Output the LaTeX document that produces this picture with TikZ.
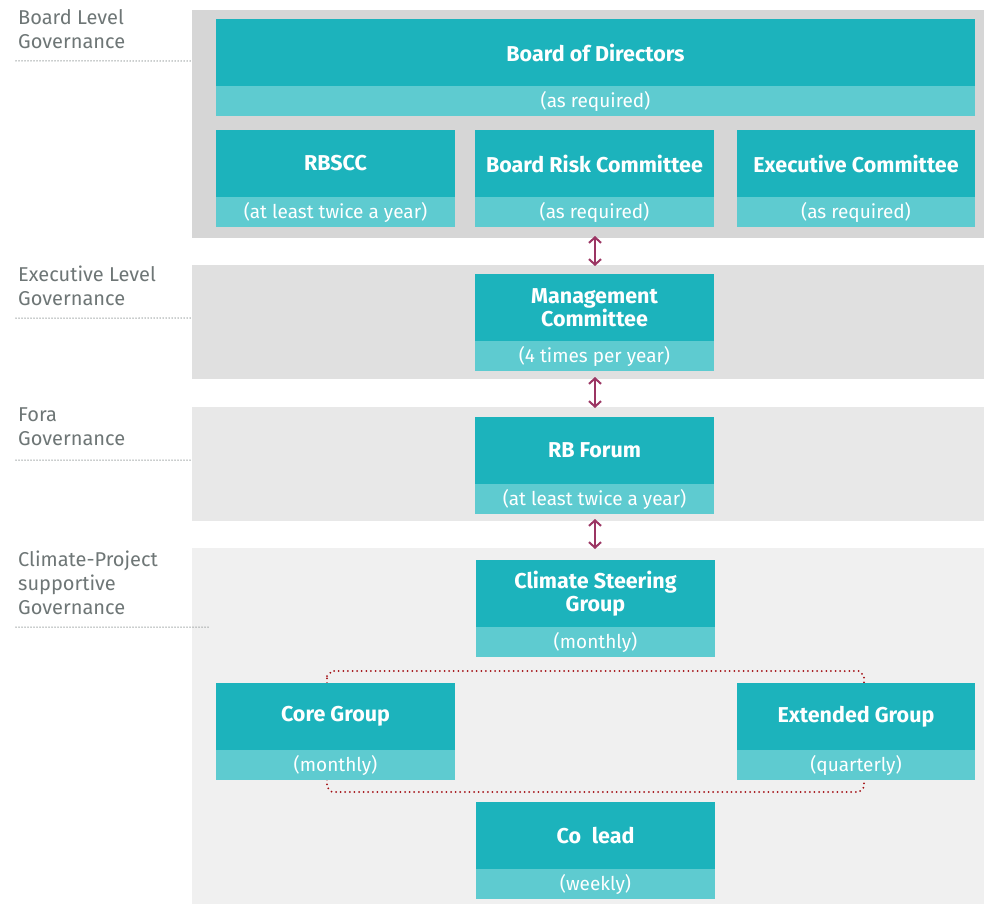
\documentclass[tikz,border=0pt]{standalone}
\usepackage{fontspec}
\setmainfont{Fira Sans}
\usetikzlibrary{arrows.meta,positioning}
\definecolor{tealD}{HTML}{1CB3BC}
\definecolor{tealL}{HTML}{5ECBD0}
\definecolor{bandA}{HTML}{D6D6D6}
\definecolor{bandB}{HTML}{E0E0E0}
\definecolor{bandC}{HTML}{E8E8E8}
\definecolor{bandD}{HTML}{F0F0F0}
\definecolor{lblgray}{HTML}{6E7676}
\definecolor{arrcol}{HTML}{9B3563}
\definecolor{dotred}{HTML}{A30D12}
\tikzset{
  ttl/.style={fill=tealD, text=white, inner sep=0pt, outer sep=0pt, minimum width=239pt, minimum height=67pt, anchor=north west, font=\fontsize{21.5}{23}\selectfont\bfseries, align=center},
  sub/.style={fill=tealL, text=white, inner sep=0pt, outer sep=0pt, minimum width=239pt, minimum height=30pt, anchor=north, font=\fontsize{19}{20}\selectfont},
  lbl/.style={text=lblgray, anchor=north west, inner sep=0pt, align=left, font=\fontsize{20}{24}\selectfont},
  lblline/.style={draw=lblgray!75, line width=1.5pt, line cap=round, dash pattern=on 0pt off 3pt},
  arr/.style={draw=arrcol, line width=2pt, {Straight Barb[length=5.5pt,width=12pt]}-{Straight Barb[length=5.5pt,width=12pt]}},
  bracket/.style={draw=dotred, line width=2pt, line cap=round, dash pattern=on 0pt off 4.6pt}
}
\begin{document}
\begin{tikzpicture}[x=1pt,y=-1pt]
\useasboundingbox[fill=white] (0,0) rectangle (984,904);
% bands
\fill[bandA] (192,10) rectangle (984,238);
\fill[bandB] (192,265) rectangle (984,379);
\fill[bandC] (192,407) rectangle (984,521);
\fill[bandD] (192,548) rectangle (984,904);
\coordinate (b1s) at (595,238);
\coordinate (b2n) at (595,265);
\coordinate (b2s) at (595,379);
\coordinate (b3n) at (595,407);
\coordinate (b3s) at (595,521);
\coordinate (b4n) at (595,548);
% labels
\node[lbl] (l1) at (18,9) {Board Level\\Governance};
\node[lbl] (l2) at (18,266) {Executive Level\\Governance};
\node[lbl] (l3) at (18,408) {Fora\\Governance};
\node[lbl] (l4) at (18,551) {Climate-Project\\supportive\\Governance};
\draw[lblline] (16,61) -- (190,61);
\draw[lblline] (16,318) -- (190,318);
\draw[lblline] (16,460) -- (190,460);
\draw[lblline] (16,627) -- (208,627);
% dotted bracket (behind the boxes)
\draw[bracket] (327,676) -- (332,671) -- (859,671) -- (864,676) -- (864,787) -- (859,792) -- (332,792) -- (327,787) -- cycle;
% Board of Directors
\node[ttl, minimum width=759pt] (bod) at (216,19) {Board of Directors};
\node[sub, minimum width=759pt] (bods) at (bod.south) {(as required)};
% row 2
\node[ttl] (rb) at (216,130) {RBSCC};
\node[sub] (rbs) at (rb.south) {(at least twice a year)};
\node[ttl] (brc) at (475,130) {Board Risk Committee};
\node[sub] (brcs) at (brc.south) {(as required)};
\node[ttl, minimum width=238pt] (ec) at (737,130) {Executive Committee};
\node[sub, minimum width=238pt] (ecs) at (ec.south) {(as required)};
% management
\node[ttl] (mc) at (475,274) {Management\\Committee};
\node[sub] (mcs) at (mc.south) {(4 times per year)};
% RB Forum
\node[ttl] (rf) at (475,417) {RB Forum};
\node[sub] (rfs) at (rf.south) {(at least twice a year)};
% climate steering
\node[ttl] (cs) at (476,560) {Climate Steering\\Group};
\node[sub] (css) at (cs.south) {(monthly)};
% core / extended
\node[ttl] (cg) at (216,683) {Core Group};
\node[sub] (cgs) at (cg.south) {(monthly)};
\node[ttl, minimum width=238pt] (eg) at (737,683) {Extended Group};
\node[sub, minimum width=238pt] (egs) at (eg.south) {(quarterly)};
% co lead
\node[ttl] (cl) at (476,802) {Co\hspace{0.5em}lead};
\node[sub] (cls) at (cl.south) {(weekly)};
% arrows
\draw[arr] ([yshift=2pt]b1s) -- ([yshift=-1pt]b2n);
\draw[arr] ([yshift=2pt]b2s) -- ([yshift=-1pt]b3n);
\draw[arr] ([yshift=2pt]b3s) -- ([yshift=-1pt]b4n);
\end{tikzpicture}
\end{document}
